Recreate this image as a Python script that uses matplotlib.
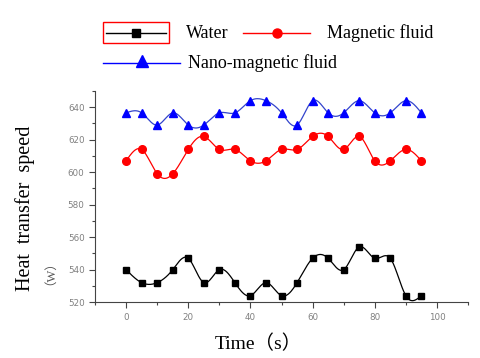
import numpy as np
import matplotlib
matplotlib.use("Agg")
import matplotlib.pyplot as plt
from matplotlib.ticker import MultipleLocator
from matplotlib.lines import Line2D
from matplotlib.patches import Rectangle

time_s = [0, 5, 10, 15, 20, 25, 30, 35, 40, 45, 50, 55, 60, 65, 70, 75, 80, 85, 90, 95]
water = [540, 532, 532, 540, 547, 532, 540, 532, 524, 532, 524, 532, 547, 547, 540, 554, 547, 547, 524, 524]
magnetic = [607, 614, 599, 599, 614, 622, 614, 614, 607, 607, 614, 614, 622, 622, 614, 622, 607, 607, 614, 607]
nano = [636.5, 636.5, 629, 636.5, 629, 629, 636.5, 636.5, 644, 644, 636.5, 629, 644, 636.5, 636.5, 644, 636.5, 636.5, 644, 636.5]
series_names = ["Water", "Magnetic fluid", "Nano-magnetic fluid"]


def natural_spline(x, y, n=400):
    x = np.asarray(x, float)
    y = np.asarray(y, float)
    m = len(x)
    h = np.diff(x)
    A = np.zeros((m, m))
    b = np.zeros(m)
    A[0, 0] = 1
    A[-1, -1] = 1
    for i in range(1, m - 1):
        A[i, i - 1] = h[i - 1]
        A[i, i] = 2 * (h[i - 1] + h[i])
        A[i, i + 1] = h[i]
        b[i] = 6 * ((y[i + 1] - y[i]) / h[i] - (y[i] - y[i - 1]) / h[i - 1])
    M = np.linalg.solve(A, b)
    xs = np.linspace(x[0], x[-1], n)
    idx = np.clip(np.searchsorted(x, xs) - 1, 0, m - 2)
    x0, x1 = x[idx], x[idx + 1]
    hh = x1 - x0
    t0 = x1 - xs
    t1 = xs - x0
    ys = (M[idx] * t0 ** 3 / (6 * hh) + M[idx + 1] * t1 ** 3 / (6 * hh)
          + (y[idx] / hh - M[idx] * hh / 6) * t0
          + (y[idx + 1] / hh - M[idx + 1] * hh / 6) * t1)
    return xs, ys


fig = plt.figure(figsize=(4.8, 3.58), dpi=100)
ax = fig.add_axes([0.198, 0.156, 0.777, 0.59])

styles = [
    (water, "black", "black", "s", 5),
    (magnetic, "red", "red", "o", 5.5),
    (nano, "#3344cc", "blue", "^", 6),
]
for data, lc, mc, mk, ms in styles:
    xs, ys = natural_spline(time_s, data)
    ax.plot(xs, ys, color=lc, lw=0.9)
    ax.plot(time_s, data, linestyle="none", marker=mk, color=mc, markersize=ms)

ax.set_xlim(-10, 110)
ax.set_ylim(520, 650)
ax.xaxis.set_major_locator(MultipleLocator(20))
ax.xaxis.set_minor_locator(MultipleLocator(10))
ax.yaxis.set_major_locator(MultipleLocator(20))
ax.yaxis.set_minor_locator(MultipleLocator(10))
ax.set_yticks([520, 540, 560, 580, 600, 620, 640])
ax.set_xticks([0, 20, 40, 60, 80, 100])
for s in ["top", "right"]:
    ax.spines[s].set_visible(False)
for s in ["left", "bottom"]:
    ax.spines[s].set_color("#444444")
    ax.spines[s].set_linewidth(0.8)
ax.tick_params(which="both", direction="out", colors="#444444", labelcolor="#808080", labelsize=6.3, width=0.8)
ax.tick_params(which="major", length=4)
ax.tick_params(which="minor", length=2.5)

serif = ["Liberation Serif", "Noto Sans CJK SC"]
fig.text(258 / 480, 1 - 344 / 358, "Time（s）", ha="center", va="center", fontsize=14, family=serif)
fig.text(25 / 480, 1 - 208 / 358, "Heat  transfer  speed", ha="center", va="center",
         rotation=90, fontsize=14.5, family=serif)
fig.text(44 / 480, 1 - 267 / 358, "（W）", ha="center", va="center", rotation=90,
         fontsize=9, family=serif, color="#555555")

# legend
def fx(px):
    return px / 480

def fy(py):
    return 1 - py / 358

fig.add_artist(Rectangle((fx(103), fy(43)), fx(169) - fx(103), fy(22) - fy(43),
                         transform=fig.transFigure, fill=False, edgecolor="red", lw=1))
fig.add_artist(Line2D([fx(106), fx(166)], [fy(32.5)] * 2, transform=fig.transFigure, color="black", lw=1))
fig.add_artist(Line2D([fx(136)], [fy(32.5)], transform=fig.transFigure, color="black", marker="s", markersize=6, linestyle="none"))
fig.text(fx(186), fy(33), series_names[0], ha="left", va="center", fontsize=13, family=serif)

fig.add_artist(Line2D([fx(243), fx(310)], [fy(32.5)] * 2, transform=fig.transFigure, color="red", lw=1))
fig.add_artist(Line2D([fx(277)], [fy(32.5)], transform=fig.transFigure, color="red", marker="o", markersize=6.5, linestyle="none"))
fig.text(fx(327), fy(33), series_names[1], ha="left", va="center", fontsize=13, family=serif)

fig.add_artist(Line2D([fx(103), fx(180)], [fy(63)] * 2, transform=fig.transFigure, color="blue", lw=1))
fig.add_artist(Line2D([fx(142)], [fy(61)], transform=fig.transFigure, color="blue", marker="^", markersize=8, linestyle="none"))
fig.text(fx(188), fy(63), series_names[2], ha="left", va="center", fontsize=13, family=serif)

fig.savefig("out.png", dpi=100)
